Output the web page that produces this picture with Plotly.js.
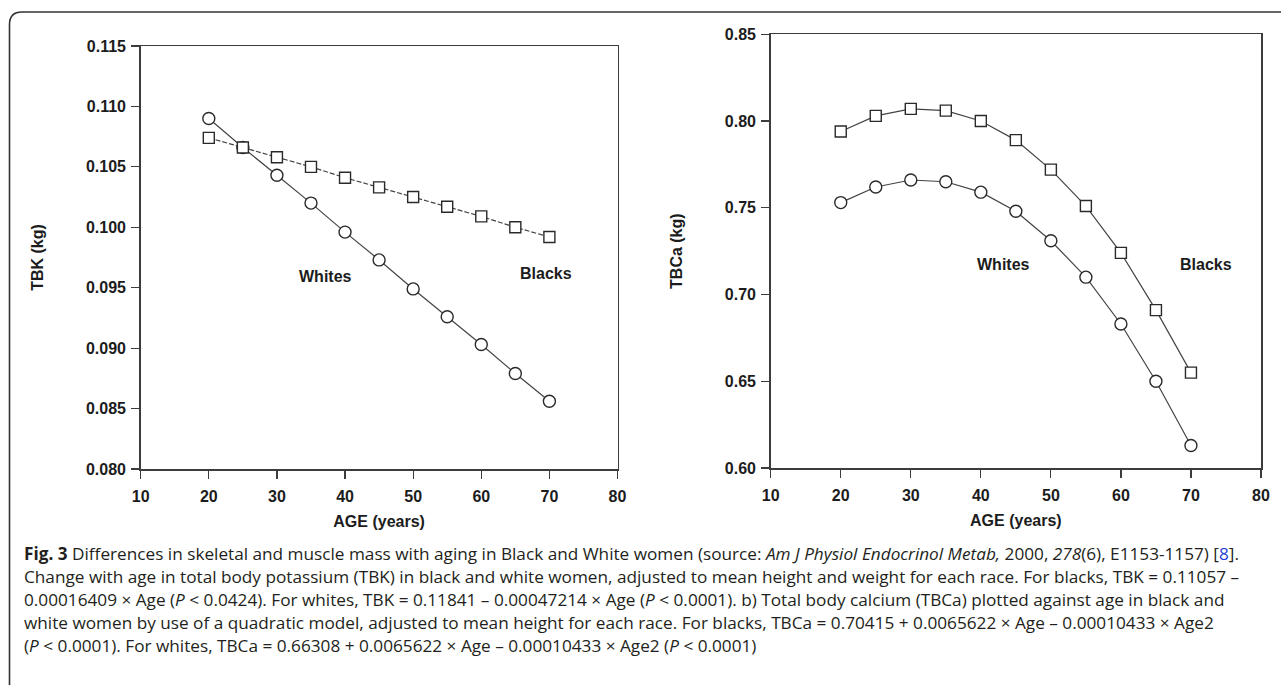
<!DOCTYPE html>
<html>
<head>
<meta charset="utf-8">
<script src="https://cdn.plot.ly/plotly-3.0.1.min.js"></script>
<style>html,body{margin:0;padding:0;background:#fff;}#chart{width:1281px;height:685px;}</style>
</head>
<body>
<div id="chart"></div>
<script>
// ---- data ----
const ages = [20, 25, 30, 35, 40, 45, 50, 55, 60, 65, 70];
const tbkBlacks = [0.1074, 0.1066, 0.1058, 0.1050, 0.1041, 0.1033, 0.1025, 0.1017, 0.1009, 0.1000, 0.0992];
const tbkWhites = [0.1090, 0.1066, 0.1043, 0.1020, 0.0996, 0.0973, 0.0949, 0.0926, 0.0903, 0.0879, 0.0856];
const tbcaBlacks = [0.794, 0.803, 0.807, 0.806, 0.800, 0.789, 0.772, 0.751, 0.724, 0.691, 0.655];
const tbcaWhites = [0.753, 0.762, 0.766, 0.765, 0.759, 0.748, 0.731, 0.710, 0.683, 0.650, 0.613];
const xTicks = [10, 20, 30, 40, 50, 60, 70, 80];
const tbkTicks = [0.080, 0.085, 0.090, 0.095, 0.100, 0.105, 0.110, 0.115];
const tbcaTicks = [0.60, 0.65, 0.70, 0.75, 0.80, 0.85];
const seriesLabels = ['Whites', 'Blacks'];
const leftLabelPos = {Whites: [37.2, 0.0959], Blacks: [69.5, 0.0962]};
const rightLabelPos = {Whites: [43.3, 0.7175], Blacks: [72.2, 0.7175]};
const captionLines = [
  '<b>Fig. 3</b> Differences in skeletal and muscle mass with aging in Black and White women (source: <i>Am J Physiol Endocrinol Metab,</i> 2000, <i>278</i>(6), E1153-1157) [<span style="color:#2b3fd6">8</span>].',
  'Change with age in total body potassium (TBK) in black and white women, adjusted to mean height and weight for each race. For blacks, TBK = 0.11057 \u2013',
  '0.00016409 \u00d7 Age (<i>P</i> < 0.0424). For whites, TBK = 0.11841 \u2013 0.00047214 \u00d7 Age (<i>P</i> < 0.0001). b) Total body calcium (TBCa) plotted against age in black and',
  'white women by use of a quadratic model, adjusted to mean height for each race. For blacks, TBCa = 0.70415 + 0.0065622 \u00d7 Age \u2013 0.00010433 \u00d7 Age2',
  '(<i>P</i> < 0.0001). For whites, TBCa = 0.66308 + 0.0065622 \u00d7 Age \u2013 0.00010433 \u00d7 Age2 (<i>P</i> < 0.0001)'
];

// ---- layout helpers ----
const W = 1281, H = 685;
const px = v => v / W;
const py = v => 1 - v / H;
const ink = '#2a2a2a';
const lineCol = '#3c3c3c';
const FAM = 'Liberation Sans, Arial, sans-serif';
const tickFont = {family: FAM, size: 16, color: '#1c1c1c', weight: 'bold'};
const titleFont = {family: FAM, size: 16, color: '#1c1c1c', weight: 'bold'};
const labelFont = {family: FAM, size: 16, color: '#1c1c1c', weight: 'bold'};

function axisBase(extra) {
  return Object.assign({
    showline: true, linecolor: lineCol, linewidth: 1.5, mirror: true,
    ticks: 'outside', ticklen: 8, tickwidth: 1.2, tickcolor: lineCol,
    showgrid: false, zeroline: false, tickfont: tickFont, fixedrange: true
  }, extra);
}

function trace(x, y, sym, sz, dash, xa, ya, name) {
  return {
    x: x, y: y, xaxis: xa, yaxis: ya, name: name, type: 'scatter', mode: 'lines+markers',
    line: {color: '#444444', width: 1.2, dash: dash},
    marker: {symbol: sym, size: sz, color: '#ffffff', line: {color: ink, width: 1.4}},
    showlegend: false, hoverinfo: 'x+y'
  };
}

const data = [
  trace(ages, tbkWhites, 'circle', 12, 'solid', 'x', 'y', 'Whites'),
  trace(ages, tbkBlacks, 'square', 11, '5px,2px', 'x', 'y', 'Blacks'),
  trace(ages, tbcaWhites, 'circle', 12, 'solid', 'x2', 'y2', 'Whites'),
  trace(ages, tbcaBlacks, 'square', 11, 'solid', 'x2', 'y2', 'Blacks')
];

const annotations = [];
seriesLabels.forEach(s => {
  annotations.push({xref: 'x', yref: 'y', x: leftLabelPos[s][0], y: leftLabelPos[s][1], text: s, showarrow: false, font: labelFont});
  annotations.push({xref: 'x2', yref: 'y2', x: rightLabelPos[s][0], y: rightLabelPos[s][1], text: s, showarrow: false, font: labelFont});
});
const capY0 = 553, capStep = 23;
captionLines.forEach((t, i) => {
  annotations.push({xref: 'paper', yref: 'paper', x: px(22), y: py(capY0 + i * capStep), xanchor: 'left', yanchor: 'middle',
    text: t, showarrow: false, align: 'left', font: {family: 'Open Sans, sans-serif', size: 17.2, color: '#231f20'}});
});

// rounded figure frame (top-left corner visible)
const frame = {
  type: 'path', xref: 'paper', yref: 'paper', layer: 'above',
  path: `M ${px(1290)},${py(12)} L ${px(22)},${py(12)} Q ${px(9.5)},${py(12)} ${px(9.5)},${py(24.5)} L ${px(9.5)},${py(700)}`,
  line: {color: '#333333', width: 1.6}
};

const layout = {
  width: W, height: H,
  margin: {l: 0, r: 0, t: 0, b: 0},
  paper_bgcolor: '#ffffff', plot_bgcolor: '#ffffff',
  showlegend: false,
  xaxis: axisBase({domain: [px(140.7), px(617.5)], range: [10, 80], tickvals: xTicks, anchor: 'y', ticklabelstandoff: 4,
    title: {text: 'AGE (years)', font: titleFont, standoff: 12}}),
  yaxis: axisBase({domain: [py(469), py(46)], range: [0.080, 0.115], tickvals: tbkTicks, tickformat: '.3f', anchor: 'x', ticklabelstandoff: 2,
    title: {text: 'TBK (kg)', font: titleFont, standoff: 38}}),
  xaxis2: axisBase({domain: [px(770.7), px(1261)], range: [10, 80], tickvals: xTicks, anchor: 'y2', ticklabelstandoff: 4,
    title: {text: 'AGE (years)', font: titleFont, standoff: 12}}),
  yaxis2: axisBase({domain: [py(468), py(34.3)], range: [0.60, 0.85], tickvals: tbcaTicks, tickformat: '.2f', anchor: 'x2', ticklabelstandoff: 2,
    title: {text: 'TBCa (kg)', font: titleFont, standoff: 38}}),
  annotations: annotations,
  shapes: [frame]
};

Plotly.newPlot('chart', data, layout, {displayModeBar: false, staticPlot: true});
</script>
</body>
</html>
